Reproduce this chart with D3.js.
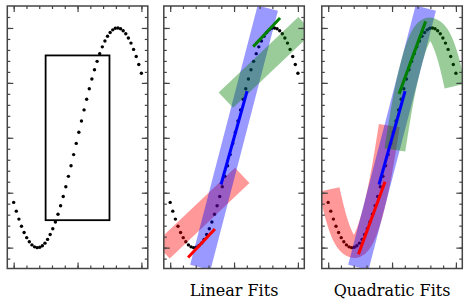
<!DOCTYPE html>
<html>
<head>
<meta charset="utf-8">
<script src="https://cdn.jsdelivr.net/npm/d3@7"></script>
<style>
  body { margin: 0; background: #fff; }
  svg { display: block; }
  .label { font-family: "DejaVu Serif", serif; font-size: 16px; fill: #000; }
</style>
</head>
<body>
<main></main>
<script>
// sampled curve (50 points)
var xs = [0, 0.204, 0.408, 0.612, 0.816, 1.020, 1.224, 1.429, 1.633, 1.837,
  2.041, 2.245, 2.449, 2.653, 2.857, 3.061, 3.265, 3.469, 3.673, 3.878,
  4.082, 4.286, 4.490, 4.694, 4.898, 5.102, 5.306, 5.510, 5.714, 5.918,
  6.122, 6.327, 6.531, 6.735, 6.939, 7.143, 7.347, 7.551, 7.755, 7.959,
  8.163, 8.367, 8.571, 8.776, 8.980, 9.184, 9.388, 9.592, 9.796, 10];
var ys = [-0.588, -0.668, -0.740, -0.805, -0.862, -0.909, -0.947, -0.975, -0.993, -1.000,
  -0.997, -0.983, -0.959, -0.925, -0.881, -0.828, -0.766, -0.696, -0.619, -0.535,
  -0.446, -0.351, -0.254, -0.153, -0.051, 0.051, 0.153, 0.254, 0.351, 0.446,
  0.535, 0.619, 0.696, 0.766, 0.828, 0.881, 0.925, 0.959, 0.983, 0.997,
  1.000, 0.993, 0.975, 0.947, 0.909, 0.862, 0.805, 0.740, 0.668, 0.588];

// window box in the first panel
var rectX = [2.5, 7.5];
var rectY = [-0.75, 0.75];

var fitColors = ["red", "blue", "green"];
var titles = ["", "Linear Fits", "Quadratic Fits"];

// linear panel: wide fits (bands) and narrow fits (lines)
var linBandX = [[-0.6, 5.64], [2.36, 7.64], [4.36, 10.6]];
var linBandY = [[-1.03, -0.343], [-1.18, 1.18], [0.343, 1.03]];
var linFitX = [[1.40, 3.50], [3.98, 6.02], [6.50, 8.60]];
var linFitY = [[-1.09, -0.83], [-0.425, 0.425], [0.83, 1.09]];

// quadratic panel
var quadBandX = [
  [0.08, 0.6, 1.2, 1.8, 2.4, 3.0, 3.6, 4.2, 4.78],
  [2.36, 7.64],
  [5.22, 5.8, 6.4, 7.0, 7.6, 8.2, 8.8, 9.4, 9.92]];
var quadBandY = [
  [-0.47, -0.72, -0.91, -0.99, -0.98, -0.86, -0.63, -0.30, 0.11],
  [-1.18, 1.18],
  [-0.11, 0.30, 0.63, 0.86, 0.98, 0.99, 0.91, 0.72, 0.47]];
var quadFitX = [[2.37, 4.45], [3.98, 6.02], [5.55, 7.63]];
var quadFitY = [[-1.06, -0.40], [-0.425, 0.425], [0.40, 1.06]];

var xMinor = d3.range(0, 11);
var xMajor = [0, 5, 10];
var yMinor = d3.range(-11, 12).map(function(d) { return d / 10; });
var yMajor = [-1, -0.5, 0, 0.5, 1];

var width = 469, height = 307;
var lefts = [7.3, 163.8, 321.8];
var top0 = 6, pw = 140.5, ph = 262.5;

var svg = d3.select("main").append("svg")
    .attr("width", width)
    .attr("height", height);

var x = d3.scaleLinear().domain([-0.5, 10.5]).range([0, pw]);
var y = d3.scaleLinear().domain([-1.19, 1.2]).range([ph, 0]);

var line = d3.line()
    .x(function(d) { return x(d[0]); })
    .y(function(d) { return y(d[1]); });
var curve = d3.line()
    .x(function(d) { return x(d[0]); })
    .y(function(d) { return y(d[1]); })
    .curve(d3.curveNatural);

lefts.forEach(function(left, i) {
  var g = svg.append("g").attr("transform", "translate(" + left + "," + top0 + ")");

  g.append("clipPath").attr("id", "clip" + i)
    .append("rect").attr("width", pw).attr("height", ph);

  var plot = g.append("g").attr("clip-path", "url(#clip" + i + ")");

  plot.selectAll(".dot")
    .data(d3.zip(xs, ys))
    .enter().append("circle")
      .attr("class", "dot")
      .attr("cx", function(d) { return x(d[0]); })
      .attr("cy", function(d) { return y(d[1]); })
      .attr("r", 1.7)
      .style("fill", "#000");

  if (i == 0) {
    plot.append("rect")
      .attr("x", x(rectX[0]))
      .attr("y", y(rectY[1]))
      .attr("width", x(rectX[1]) - x(rectX[0]))
      .attr("height", y(rectY[0]) - y(rectY[1]))
      .style("fill", "none")
      .style("stroke", "#000")
      .style("stroke-width", 1.8);
  }

  if (i > 0) {
    var bx = i == 1 ? linBandX : quadBandX;
    var by = i == 1 ? linBandY : quadBandY;
    var fx = i == 1 ? linFitX : quadFitX;
    var fy = i == 1 ? linFitY : quadFitY;

    fitColors.forEach(function(c, k) {
      plot.append("path")
        .attr("d", (bx[k].length > 2 ? curve : line)(d3.zip(bx[k], by[k])))
        .style("fill", "none")
        .style("stroke", c)
        .style("stroke-opacity", 0.4)
        .style("stroke-width", 21)
        .style("stroke-linecap", "butt");
    });
    fitColors.forEach(function(c, k) {
      plot.append("path")
        .attr("d", line(d3.zip(fx[k], fy[k])))
        .style("fill", "none")
        .style("stroke", c)
        .style("stroke-width", 3);
    });
  }

  // inward ticks on all four sides
  var axes = [
    [d3.axisBottom(x), "translate(0," + ph + ")", xMinor, xMajor],
    [d3.axisTop(x), "translate(0,0)", xMinor, xMajor],
    [d3.axisLeft(y), "translate(0,0)", yMinor, yMajor],
    [d3.axisRight(y), "translate(" + pw + ",0)", yMinor, yMajor]
  ];
  axes.forEach(function(a) {
    [[a[2], 3], [a[3], 6]].forEach(function(t) {
      var ax = g.append("g")
        .attr("transform", a[1])
        .call(a[0].tickValues(t[0]).tickSize(-t[1]).tickFormat(""));
      ax.select(".domain").remove();
      ax.selectAll("line").style("stroke", "#444").style("stroke-width", 1.2);
    });
  });

  g.append("rect")
    .attr("width", pw)
    .attr("height", ph)
    .style("fill", "none")
    .style("stroke", "#444")
    .style("stroke-width", 1.5);

  g.append("text")
    .attr("class", "label")
    .attr("x", pw / 2)
    .attr("y", 290)
    .attr("text-anchor", "middle")
    .text(titles[i]);
});
</script>
</body>
</html>
